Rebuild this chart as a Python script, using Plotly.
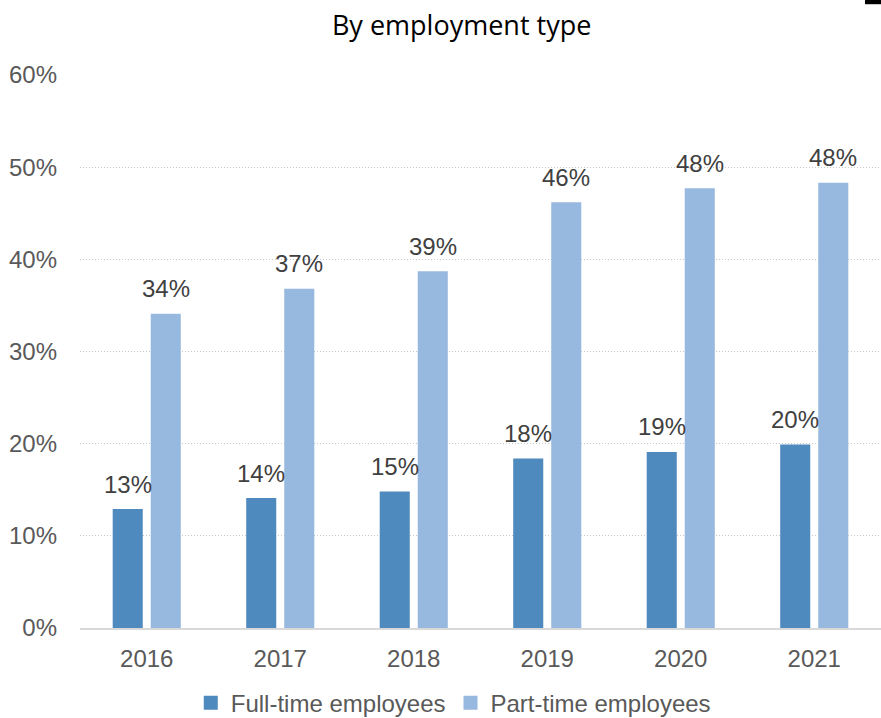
import plotly.graph_objects as go

years = ["2016", "2017", "2018", "2019", "2020", "2021"]
full_time = [0.129, 0.141, 0.148, 0.184, 0.191, 0.199]
part_time = [0.341, 0.368, 0.387, 0.462, 0.477, 0.483]
full_labels = ["13%", "14%", "15%", "18%", "19%", "20%"]
part_labels = ["34%", "37%", "39%", "46%", "48%", "48%"]
y_ticks = [0, 0.1, 0.2, 0.3, 0.4, 0.5, 0.6]
y_tick_text = ["0%", "10%", "20%", "30%", "40%", "50%", "60%"]

C_FULL = "#4f8abe"
C_PART = "#98b9df"
FONT = "Liberation Sans, Arial, sans-serif"

fig = go.Figure()
fig.add_trace(go.Bar(name="Full-time employees", x=years, y=full_time, showlegend=False,
                     marker=dict(color=C_FULL, line=dict(width=0))))
fig.add_trace(go.Bar(name="Part-time employees", x=years, y=part_time, showlegend=False,
                     marker=dict(color=C_PART, line=dict(width=0))))
# legend entries with larger square swatches
for name, col in [("Full-time employees", C_FULL), ("Part-time employees", C_PART)]:
    fig.add_trace(go.Scatter(name=name, x=[None], y=[None], mode="markers",
                             marker=dict(symbol="square", size=14, color=col), showlegend=True))

annotations = []
for i, (v, t) in enumerate(zip(full_time, full_labels)):
    annotations.append(dict(x=i, y=v, text=t, xref="x", yref="y", showarrow=False,
                            xshift=-19, yshift=25, font=dict(family=FONT, size=24, color="#404040")))
for i, (v, t) in enumerate(zip(part_time, part_labels)):
    annotations.append(dict(x=i, y=v, text=t, xref="x", yref="y", showarrow=False,
                            xshift=19, yshift=25, font=dict(family=FONT, size=24, color="#404040")))

fig.update_layout(
    width=881, height=718,
    margin=dict(l=80, r=0, t=75, b=90, autoexpand=False),
    paper_bgcolor="white", plot_bgcolor="white",
    barmode="group", bargap=0.43, bargroupgap=0.21,
    title=dict(text="By employment type", x=0.524, xanchor="center", y=0.965, yanchor="middle",
               font=dict(family="Open Sans, Noto Sans, sans-serif", size=27, color="#000000")),
    xaxis=dict(type="category", range=[-0.5, 5.5], showgrid=False, showline=True,
               linecolor="#d9d9d9", linewidth=2,
               ticks="", ticklabelstandoff=8,
               tickfont=dict(family=FONT, size=24, color="#595959")),
    yaxis=dict(range=[0, 0.6], tickvals=y_ticks, ticktext=y_tick_text,
               showgrid=True, gridcolor="#c8c8c8", griddash="1px,2px", gridwidth=1,
               zeroline=False, showline=False, ticks="", ticklabelstandoff=22,
               tickfont=dict(family=FONT, size=24, color="#595959")),
    legend=dict(orientation="h", x=0.466, xanchor="center", y=-0.136, yanchor="middle",
                font=dict(family=FONT, size=24, color="#595959"), itemwidth=30,
                traceorder="normal"),
    annotations=annotations,
    shapes=[dict(type="rect", xref="paper", yref="paper", x0=0.98, x1=1.0,
                 y0=1.128, y1=1.14, fillcolor="black", line=dict(width=0))],
)

fig.write_html("out.html")
